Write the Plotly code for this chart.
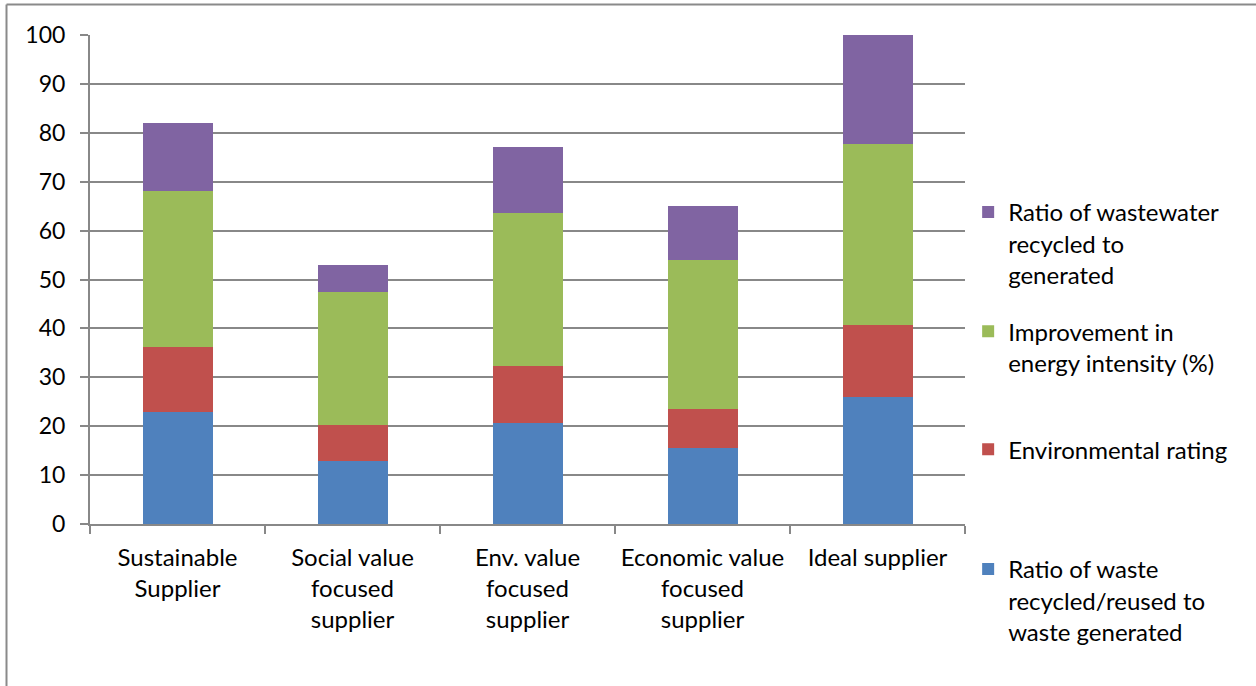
import plotly.graph_objects as go

# Supplier profiles and their stacked indicator scores
suppliers = [
    "Sustainable<br>Supplier",
    "Social value<br>focused<br>supplier",
    "Env. value<br>focused<br>supplier",
    "Economic value<br>focused<br>supplier",
    "Ideal supplier<br> <br> ",
]

waste_ratio = [22.9, 12.9, 20.6, 15.5, 25.9]
env_rating = [13.3, 7.3, 11.8, 8.1, 14.7]
energy_improvement = [31.9, 27.3, 31.3, 30.4, 37.1]
wastewater_ratio = [14.0, 5.5, 13.3, 11.1, 22.3]

series_names = [
    "Ratio of waste<br>recycled/reused to<br>waste generated",
    "Environmental rating",
    "Improvement in<br>energy intensity (%)",
    "Ratio of wastewater<br>recycled to<br>generated",
]
series_values = [waste_ratio, env_rating, energy_improvement, wastewater_ratio]
series_colors = ["#4F81BD", "#C0504D", "#9BBB59", "#8064A2"]

y_ticks = list(range(0, 101, 10))

FONT = "Lato, Calibri, Carlito, sans-serif"
GRID = "#888888"

# one legend box per series so the entries sit in evenly spaced slots
legend_ids = ["legend", "legend2", "legend3", "legend4"]
legend_tops = [-0.047, 0.198, 0.4395, 0.683]

fig = go.Figure()
for name, vals, col, lid in zip(series_names, series_values, series_colors, legend_ids):
    fig.add_trace(go.Bar(
        x=suppliers,
        y=vals,
        name=name,
        legend=lid,
        marker=dict(color=col, line=dict(width=0)),
    ))

legend_style = dict(
    x=1.0036,
    xanchor="left",
    yanchor="top",
    valign="top",
    itemwidth=30,
    font=dict(family=FONT, size=24, color="black"),
    bgcolor="rgba(0,0,0,0)",
)

fig.update_layout(
    barmode="stack",
    bargap=0.6,
    width=1256,
    height=686,
    margin=dict(l=90, r=291, t=35, b=162),
    paper_bgcolor="white",
    plot_bgcolor="white",
    font=dict(family=FONT, size=24, color="black"),
    showlegend=True,
    xaxis=dict(
        type="category",
        tickson="boundaries",
        ticks="outside",
        ticklen=8,
        tickwidth=2,
        tickcolor=GRID,
        showline=True,
        linecolor=GRID,
        linewidth=2,
        showgrid=False,
        ticklabelstandoff=11,
        tickfont=dict(family=FONT, size=24, color="black"),
        fixedrange=True,
    ),
    yaxis=dict(
        range=[0, 100],
        tickvals=y_ticks,
        ticks="outside",
        ticklen=8,
        tickwidth=2,
        tickcolor=GRID,
        showline=True,
        linecolor=GRID,
        linewidth=2,
        showgrid=True,
        gridcolor=GRID,
        gridwidth=2,
        zeroline=False,
        ticklabelstandoff=10,
        tickfont=dict(family=FONT, size=23, color="black"),
    ),
    shapes=[
        # outer chart frame (left and top edges)
        dict(type="line", xref="paper", yref="paper",
             x0=-83.5 / 875, x1=1.4, y0=1 + 30.5 / 489, y1=1 + 30.5 / 489,
             line=dict(color="#8a8a8a", width=2)),
        dict(type="line", xref="paper", yref="paper",
             x0=-83.5 / 875, x1=-83.5 / 875, y0=-0.4, y1=1 + 30.5 / 489,
             line=dict(color="#8a8a8a", width=2)),
    ],
)

for lid, top in zip(legend_ids, legend_tops):
    fig.update_layout({lid: dict(legend_style, y=top)})

fig.write_html("out.html")
